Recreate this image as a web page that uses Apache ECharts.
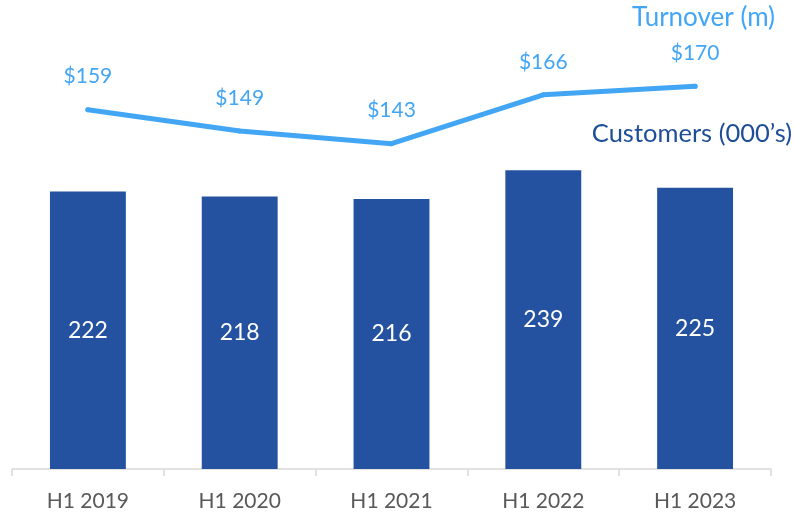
<!DOCTYPE html>
<html>
<head>
<meta charset="utf-8">
<script src="https://cdn.jsdelivr.net/npm/echarts@6/dist/echarts.min.js"></script>
<style>
  html, body { margin: 0; padding: 0; background: #fff; }
  #chart { width: 794px; height: 514px; }
</style>
</head>
<body>
<div id="chart"></div>
<script>
  // data
  const periods = ['H1 2019', 'H1 2020', 'H1 2021', 'H1 2022', 'H1 2023']
  const customers = [222, 218, 216, 239, 225]
  const turnover = [159, 149, 143, 166, 170]

  const barColor = '#2452a0'
  const lineColor = '#42a6f5'
  const font = 'Lato, "Open Sans", sans-serif'

  const myChart = echarts.init(document.getElementById('chart'))

  const option = {
    backgroundColor: '#fff',
    animation: false,
    grid: [
      { left: 12, right: 23, top: 94, bottom: 45 },
      // line sits in its own band above the bars
      { left: 12, right: 23, top: 80, height: 70 }
    ],
    xAxis: [
      {
        type: 'category',
        gridIndex: 0,
        data: periods,
        axisLine: { lineStyle: { color: '#d9d9d9', width: 1.5 } },
        axisTick: { show: true, length: 7, lineStyle: { color: '#d9d9d9', width: 1.5 } },
        axisLabel: { color: '#595959', fontSize: 21, fontFamily: font, margin: 22 }
      },
      {
        type: 'category',
        gridIndex: 1,
        data: periods,
        show: false
      }
    ],
    yAxis: [
      { type: 'value', gridIndex: 0, min: 0, max: 300, show: false },
      { type: 'value', gridIndex: 1, min: 140, max: 173, show: false }
    ],
    series: [
      {
        name: 'Customers',
        type: 'bar',
        xAxisIndex: 0,
        yAxisIndex: 0,
        data: customers,
        barWidth: '50%',
        itemStyle: { color: barColor },
        label: {
          show: true,
          position: 'inside',
          color: '#fff',
          fontSize: 23,
          fontFamily: font
        }
      },
      {
        name: 'Turnover',
        type: 'line',
        xAxisIndex: 1,
        yAxisIndex: 1,
        data: turnover,
        clip: false,
        symbol: 'circle',
        symbolSize: 5,
        itemStyle: { color: lineColor },
        lineStyle: { color: lineColor, width: 5, cap: 'round', join: 'round' },
        label: {
          show: true,
          position: 'top',
          distance: 20,
          color: lineColor,
          fontSize: 21,
          fontFamily: font,
          formatter: (params) => '$' + params.value
        }
      }
    ],
    graphic: [
      {
        type: 'text',
        right: 19,
        top: 5,
        style: { text: 'Turnover (m)', fill: lineColor, fontSize: 26, fontFamily: font }
      },
      {
        type: 'text',
        right: 2,
        top: 121,
        style: { text: 'Customers (000’s)', fill: '#1f4e99', fontSize: 25.5, fontFamily: font }
      }
    ]
  }

  myChart.setOption(option)
</script>
</body>
</html>
